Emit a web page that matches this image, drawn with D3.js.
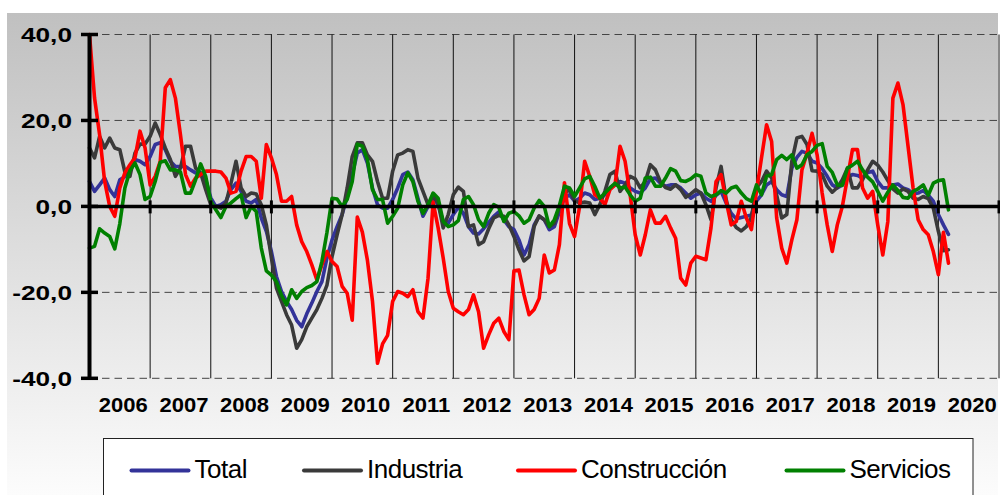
<!DOCTYPE html>
<html><head><meta charset="utf-8">
<script src="https://cdn.jsdelivr.net/npm/d3@7/dist/d3.min.js"></script>
<style>
body{margin:0;background:#fff;}
svg{display:block;font-family:"Liberation Sans",Arial,sans-serif;}
</style>
</head><body>
<svg id="chart" width="1000" height="495"></svg>
<script>
// ---------- DATA (monthly, Jan 2006 onwards) ----------
const startYear = 2006;
const yearLabels = [2006,2007,2008,2009,2010,2011,2012,2013,2014,2015,2016,2017,2018,2019,2020];
const yTicks = [-40,-20,0,20,40];
const seriesNames = ["Total","Industria","Construcción","Servicios"];

const total = [
 5.8,3.5,5,6.6,3.9,2.3,6.2,6.9,8.5,10.9,
 10.5,9.7,11.6,14.4,14.8,13.2,10.5,9.3,9.3,9.3,
 8.5,7.8,7.4,6.2,2,0,0.4,1.2,3.9,5.4,
 3.5,1.2,0.8,1.6,-2.7,-5.8,-10.5,-16.3,-19.8,-22.1,
 -24,-26.5,-28,-25,-22.5,-19.8,-17.5,-12,-7.8,-4.7,
 -1.9,2.3,7.4,12.4,13.2,10.1,4.3,0.4,-0.4,-0.4,
 1.6,4.3,7.4,8,6.2,1.9,-2.3,0,1.9,0.4,
 -3.5,-3.9,-1.9,-0.2,-1.6,-4.7,-6.2,-6.4,-5.2,-3.7,
 -2.3,-1.3,-3.1,-4.7,-5.4,-7.8,-11.3,-8.9,-4.3,-2.3,
 -3.1,-5.4,-4.7,-1.2,1.9,2.7,1.2,1.9,3.1,2.7,
 1.6,1.9,2.7,4.3,5,5.8,5.4,4.3,3.5,3.1,
 4.3,6.4,6.6,5.4,4.7,5,5,4.3,3.1,1.9,
 2.7,3.1,1.9,1.2,2.6,3.5,0.8,-1.6,-2.9,-2.6,
 -2.3,-2,1.2,2.7,5,5.8,3.9,2.7,2.3,8.9,
 11.4,12.8,12.4,10.5,10.1,8.8,7,5,4.3,5,
 6.6,7.4,7.2,6.6,7.9,8.2,5.8,4.3,4.3,5,
 5.2,4.3,3.9,2.9,3.1,3.7,2.6,1.2,-1.9,-4.3,
 -6.5
];
const industria = [
 13.6,11.3,16.3,13.6,15.9,13.6,13.2,8,7,12.4,
 14.5,14.5,16.3,19.4,16.7,13.6,10.9,7,8.9,14,
 14,8.9,7.8,3.9,0.4,0,-0.4,0.8,5.4,10.5,
 4.3,2.3,3.1,2.9,0.4,-4.3,-12,-19,-22.1,-25.2,
 -27.6,-33,-31,-28,-26,-24,-21.4,-18.3,-11.7,-6.6,
 -1.9,4.3,11.6,14.8,14.8,12,10.5,5.8,1.9,1.9,
 8.2,12,12.4,13.2,12.8,6.6,3.5,0.4,2.3,0.8,
 -5,-1.9,2.7,4.5,3.5,-4.7,-4.3,-8.9,-8.2,-5.2,
 -2.7,-2.1,-2.3,-4.3,-7,-10.1,-12.7,-11.7,-4.7,-2.2,
 -3.1,-4.7,-3.9,0,3,3.9,1.3,0.8,1,0.8,
 -1.9,0.4,3.5,7.4,8.2,3.5,5,7,6.4,4.3,
 5.8,9.7,8.5,5.7,4.4,4,5,3.9,2.1,2.9,
 3.9,3.1,0.4,-3.1,4.3,9.3,1.6,-3.1,-4.9,-5.7,
 -4.7,-2.5,4.3,5.8,8.2,6.6,2.6,-2.7,-1.9,10.5,
 15.9,16.3,14.4,8.3,8.2,7.4,4.7,3.3,4.4,6.2,
 8.9,4.3,4.3,6.2,8.5,10.5,9.6,8,6,4.1,
 3.1,4.1,3.5,1.9,1.6,2.3,1.8,-0.4,-5.8,-10.3,
 -10.1
];
const construccion = [
 40,25.2,16.7,5.8,0,-2.3,4.3,7.8,9.7,11.3,
 17.5,13.6,5,7,10.5,27.6,29.5,25.2,16.7,7.4,
 4.7,6.6,7.4,8.2,8.2,8.2,8,6.6,3.1,3.5,
 8.2,11.6,11.6,10.5,1.9,14.4,11.3,7.4,1.2,1.2,
 2.3,-4.3,-8.2,-10.5,-13.6,-17.1,-13.6,-10.5,-12.8,-14,
 -18.6,-20.2,-26.5,-2.5,-6,-12.5,-22,-36.5,-32,-30,
 -22.1,-19.8,-20.2,-21,-19.4,-24.5,-26,-16.7,1,-5,
 -12,-19.8,-23.7,-24.5,-25.2,-24,-20.6,-24.5,-33,-29.9,
 -27.2,-26,-29.1,-31,-15,-14.8,-20.6,-25.2,-24,-21.4,
 -11.3,-15.5,-14.8,-8.9,5.5,-4,-7,0,10.5,7,
 2.7,1.9,0.4,3.9,5,14,10.5,2.7,-6.6,-11.3,
 -6.6,-0.8,-3.9,-3.9,-2.3,-5,-7.4,-16.7,-18.3,-13.2,
 -11.6,-12,-12.4,-5,5.8,7.4,1.2,-4.3,-3.5,1.2,
 -2.7,-5.4,3.5,11.3,19,15.1,-2.7,-9.7,-13.2,-7.8,
 -3.1,8.5,12.4,17,12,3.1,-4.3,-10.5,-4.3,0,
 6.6,13.2,13.2,4.3,1.9,3.5,-4.3,-11.3,-3.5,25.2,
 28.7,23.7,14,4.3,-3.1,-5.4,-6.6,-10.5,-15.9,-6,
 -13.2
];
const servicios = [
 -9.7,-9.3,-5.2,-6.2,-7,-9.9,-4,4.3,8.3,10.1,
 7.4,1.6,2.3,5.8,10.3,10.6,8.5,8.5,8,3.1,
 3.1,6.2,9.9,7,1.2,-0.8,-2.6,0,0.8,1.8,
 2.7,-2.6,0,-1.2,-9.7,-15,-16,-17.5,-20.7,-22.9,
 -19.4,-21.4,-19.8,-18.9,-18.4,-17.5,-12.8,-6,1.9,1.7,
 0,1.6,5.8,14.5,14,10.9,3.9,1.6,1.6,-3.9,
 -2.3,-0.4,5,7.8,5.8,1.2,-1.6,0.4,3.1,1.9,
 -3.5,-4.7,-4.3,-3.3,1.6,2.3,0.4,-3.1,-4.7,-1.6,
 0.4,-0.2,-3.5,-1.6,-1.2,-2.2,-3.9,-3.1,-0.4,1.4,
 0,-4.7,-3.1,0.2,4.7,4.3,2.3,4.3,6.4,7,
 4.7,1.9,3.1,4.3,5.4,4.3,4.5,2.7,1.2,1.9,
 6.6,6.8,4.7,4.7,6.6,8.8,8.2,6,5.8,6.4,
 7.4,7,3.1,2.3,2.7,3.7,3.1,4.3,4.7,3.1,
 1.8,1.2,5,2.7,7,7.4,10.9,11.9,10.9,12,
 8.9,9.7,12,12.8,14.2,14.6,9.3,7.9,5,4.9,
 8.9,9.6,10.5,8.5,6.8,5.7,3.5,1.2,3.3,5,
 3.7,2.1,1.9,3.5,4.1,5,2.6,5.4,6,6.2,
 -0.8
];

// ---------- LAYOUT / STYLE ----------
const seriesData = [total, industria, construccion, servicios];
const colors = ["#333399","#3a3a3a","#ff0000","#008000"];
const legendLineX = [131.5, 304, 518, 786.5];

const svg = d3.select("#chart");
const defs = svg.append("defs");
const grad = defs.append("linearGradient").attr("id","bg")
  .attr("x1",0).attr("y1",0).attr("x2",0).attr("y2",1);
grad.append("stop").attr("offset","0%").attr("stop-color","#c0c0c0");
grad.append("stop").attr("offset","100%").attr("stop-color","#fdfdfd");

svg.append("rect").attr("x",0).attr("y",0).attr("width",1000).attr("height",495).attr("fill","#fff");
svg.append("rect").attr("x",7).attr("y",13).attr("width",991).attr("height",490).attr("fill","url(#bg)");

const x = d3.scaleLinear().domain([startYear, startYear+yearLabels.length]).range([89.5, 999]);
const y = d3.scaleLinear().domain([-40, 40]).range([378.3, 34.5]);

// horizontal dashed gridlines
svg.append("g").selectAll("line").data(yTicks.filter(v => v !== 0)).join("line")
  .attr("x1", x.range()[0]).attr("x2", 999)
  .attr("y1", d => y(d)).attr("y2", d => y(d))
  .attr("stroke","#444").attr("stroke-width",1).attr("stroke-dasharray","7.5,5");

// vertical year gridlines
const bounds = yearLabels.map(v => v + 1);
svg.append("g").selectAll("line").data(bounds).join("line")
  .attr("x1", d => x(d)).attr("x2", d => x(d))
  .attr("y1", y(40)).attr("y2", y(-40))
  .attr("stroke","#111").attr("stroke-width",1);

// series lines
const line = d3.line()
  .x((d,i) => x(startYear + i/12))
  .y(d => y(d));
svg.append("g").selectAll("path").data(seriesData).join("path")
  .attr("d", d => line(d))
  .attr("fill","none")
  .attr("stroke", (d,i) => colors[i])
  .attr("stroke-width", 3.6)
  .attr("stroke-linejoin","round")
  .attr("stroke-linecap","round");

// zero line with year ticks
svg.append("line").attr("x1", x.range()[0]).attr("x2", 1000)
  .attr("y1", y(0)).attr("y2", y(0)).attr("stroke","#000").attr("stroke-width",3.5);
svg.append("g").selectAll("line").data(bounds).join("line")
  .attr("x1", d => x(d)).attr("x2", d => x(d))
  .attr("y1", y(0) - 6).attr("y2", y(0) + 7)
  .attr("stroke","#000").attr("stroke-width",3);

// y axis
svg.append("line").attr("x1", x.range()[0]).attr("x2", x.range()[0])
  .attr("y1", y(40) - 1).attr("y2", y(-40) + 1).attr("stroke","#000").attr("stroke-width",4);
svg.append("g").selectAll("line").data(yTicks).join("line")
  .attr("x1", 81).attr("x2", 98)
  .attr("y1", d => y(d)).attr("y2", d => y(d))
  .attr("stroke","#000").attr("stroke-width",3.5);

const fmt = v => d3.format(".1f")(v).replace(".", ",").replace("−","-");
svg.append("g").selectAll("g").data(yTicks).join("g")
  .attr("transform", d => `translate(72,${y(d) + 7.5}) scale(1.25,1)`)
  .append("text")
  .attr("text-anchor","end")
  .attr("font-weight","bold").attr("font-size","21px").attr("fill","#000")
  .text(d => fmt(d));

// x labels
svg.append("g").selectAll("g").data(yearLabels).join("g")
  .attr("transform", d => `translate(${x(d + 0.5) + 3.5},412) scale(1.13,1)`)
  .append("text")
  .attr("text-anchor","middle")
  .attr("font-weight","bold").attr("font-size","19.5px").attr("fill","#000")
  .text(d => d);

// legend
svg.append("rect").attr("x",103.5).attr("y",438.5).attr("width",869.5).attr("height",70)
  .attr("fill","#fff").attr("stroke","#222").attr("stroke-width",1);
const lg = svg.append("g").selectAll("g").data(seriesNames).join("g")
  .attr("transform", (d,i) => `translate(${legendLineX[i]},470.5)`);
lg.append("line").attr("x1",0).attr("x2",57).attr("y1",0).attr("y2",0)
  .attr("stroke", (d,i) => colors[i]).attr("stroke-width",4).attr("stroke-linecap","round");
lg.append("text").attr("x",63).attr("y",7)
  .attr("font-size","26px").attr("fill","#000").attr("letter-spacing","-0.5")
  .text(d => d);
</script>
</body></html>
